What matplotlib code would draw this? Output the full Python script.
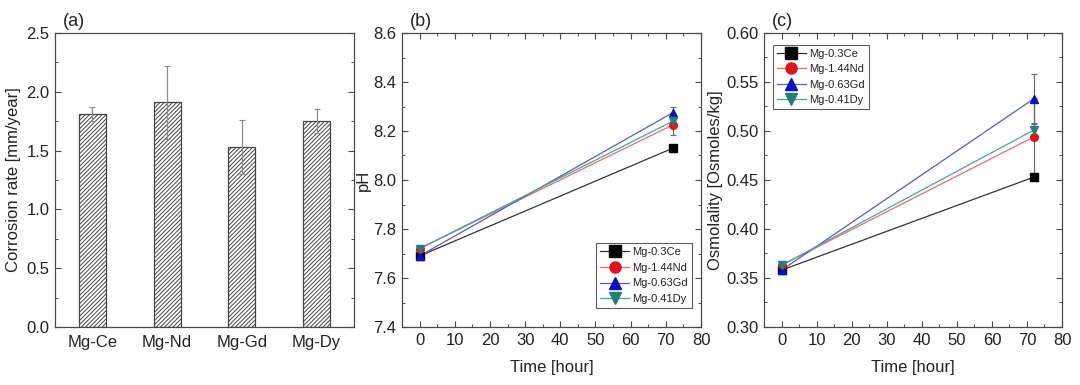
import matplotlib
matplotlib.use("Agg")
import matplotlib.pyplot as plt
from matplotlib.ticker import MultipleLocator, FormatStrFormatter

plt.rcParams['font.family'] = ['Liberation Sans', 'DejaVu Sans']
plt.rcParams['hatch.color'] = '#6a6a6a'
plt.rcParams['hatch.linewidth'] = 0.7

# ---- data ----
alloys_short = ["Mg-Ce", "Mg-Nd", "Mg-Gd", "Mg-Dy"]
corrosion_rate = [1.81, 1.91, 1.53, 1.75]
corrosion_err = [0.06, 0.31, 0.23, 0.10]

series_names = ["Mg-0.3Ce", "Mg-1.44Nd", "Mg-0.63Gd", "Mg-0.41Dy"]
time_h = [0, 72]
ph_ce = [7.69, 8.13]
ph_nd = [7.72, 8.225]
ph_gd = [7.69, 8.275]
ph_dy = [7.72, 8.24]
ph_err_ce = [0.005, 0.015]
ph_err_nd = [0.005, 0.04]
ph_err_gd = [0.005, 0.025]
ph_err_dy = [0.005, 0.02]

osm_ce = [0.358, 0.453]
osm_nd = [0.363, 0.494]
osm_gd = [0.358, 0.533]
osm_dy = [0.363, 0.501]
osm_err_ce = [0.002, 0.003]
osm_err_nd = [0.002, 0.04]
osm_err_gd = [0.002, 0.025]
osm_err_dy = [0.002, 0.006]

marker_face = ["#000000", "#e0121b", "#0a0fc8", "#22807a"]
line_cols = ["#333333", "#e07070", "#5a5ab8", "#4aa39c"]
markers = ["s", "o", "^", "v"]

W, H = 1080, 385
fig = plt.figure(figsize=(W / 100, H / 100), dpi=100)

def ax_at(l, t, r, b):
    return fig.add_axes([l / W, 1 - b / H, (r - l) / W, (b - t) / H])

spine_col = "#4a4a4a"
txt_col = "#222222"
fs = 12

def style(ax, top_ticks=True):
    for s in ax.spines.values():
        s.set_color(spine_col)
        s.set_linewidth(0.9)
    ax.tick_params(which='both', direction='in', colors=spine_col, labelcolor=txt_col,
                   labelsize=fs, right=True, top=top_ticks)
    ax.tick_params(which='major', length=4, width=0.8, pad=4)
    ax.tick_params(which='minor', length=2.2, width=0.7)

def panel_label(ax, s):
    ax.text(0.025, 1.01, s, transform=ax.transAxes, fontsize=13, color=txt_col,
            ha='left', va='bottom')

# ---- (a) ----
ax1 = ax_at(55, 33, 354, 327)
xpos = list(range(len(alloys_short)))
ax1.bar(xpos, corrosion_rate, width=0.36, color='white', edgecolor='#444444',
        hatch='////////', linewidth=0.9, zorder=2)
ax1.errorbar(xpos, corrosion_rate, yerr=corrosion_err, fmt='none', ecolor='#8a8a8a',
             elinewidth=0.9, capsize=2.5, capthick=0.8, zorder=3)
ax1.set_xlim(-0.5, 3.5)
ax1.set_ylim(0, 2.5)
ax1.set_xticks(xpos)
ax1.set_xticklabels(alloys_short)
ax1.yaxis.set_major_locator(MultipleLocator(0.5))
ax1.yaxis.set_minor_locator(MultipleLocator(0.25))
style(ax1, top_ticks=False)
ax1.tick_params(axis='x', which='both', length=0, pad=6)
ax1.set_ylabel("Corrosion rate [mm/year]", fontsize=fs, color=txt_col, labelpad=4)
panel_label(ax1, "(a)")

def line_panel(ax, ys, errs, ylim, major, minor, ylabel, label, legend_loc, legend_anchor):
    handles = []
    for y, e, mf, lc, mk, nm in zip(ys, errs, marker_face, line_cols, markers, series_names):
        ax.errorbar(time_h, y, yerr=e, fmt='none', ecolor='#6a6a6a', elinewidth=0.9,
                    capsize=2, capthick=0.8, zorder=2)
        ax.plot(time_h, y, color=lc, linewidth=0.9, zorder=3)
        ax.plot(time_h, y, linestyle='none', marker=mk, markersize=5.5,
                markerfacecolor=mf, markeredgecolor=mf, zorder=4)
        h, = ax.plot([], [], color=lc, linewidth=0.9, marker=mk, markersize=8,
                     markerfacecolor=mf, markeredgecolor=mf, label=nm)
        handles.append(h)
    ax.set_xlim(-5, 80)
    ax.set_ylim(*ylim)
    ax.xaxis.set_major_locator(MultipleLocator(10))
    ax.xaxis.set_minor_locator(MultipleLocator(5))
    ax.yaxis.set_major_locator(MultipleLocator(major))
    ax.yaxis.set_minor_locator(MultipleLocator(minor))
    style(ax)
    ax.set_xlabel("Time [hour]", fontsize=fs, color=txt_col, labelpad=9)
    ax.set_ylabel(ylabel, fontsize=fs, color=txt_col, labelpad=2)
    panel_label(ax, label)
    leg = ax.legend(handles=handles, loc=legend_loc, bbox_to_anchor=legend_anchor,
                    fontsize=8, frameon=True, fancybox=False, edgecolor='#333333',
                    handlelength=2.6, handletextpad=0.3, borderpad=0.35,
                    labelspacing=0.5, borderaxespad=0.0)
    leg.get_frame().set_linewidth(0.8)
    for t in leg.get_texts():
        t.set_color(txt_col)

# ---- (b) ----
ax2 = ax_at(402, 33, 701, 327)
line_panel(ax2, [ph_ce, ph_nd, ph_gd, ph_dy], [ph_err_ce, ph_err_nd, ph_err_gd, ph_err_dy],
           (7.4, 8.6), 0.2, 0.1, "pH", "(b)", 'lower right', (0.97, 0.065))
ax2.yaxis.set_major_formatter(FormatStrFormatter('%.1f'))

# ---- (c) ----
ax3 = ax_at(764, 33, 1062, 327)
line_panel(ax3, [osm_ce, osm_nd, osm_gd, osm_dy],
           [osm_err_ce, osm_err_nd, osm_err_gd, osm_err_dy],
           (0.30, 0.60), 0.05, 0.025, "Osmolality [Osmoles/kg]", "(c)", 'upper left',
           (0.03, 0.96))
ax3.yaxis.set_major_formatter(FormatStrFormatter('%.2f'))

fig.savefig("out.png", dpi=100, facecolor='white')
